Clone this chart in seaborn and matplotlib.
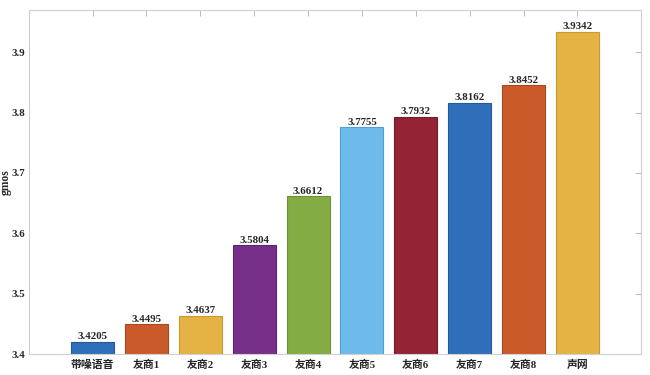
import pandas as pd
from matplotlib import pyplot as plt
import seaborn as sns

systems = ["带噪语音", "友商1", "友商2", "友商3", "友商4", "友商5", "友商6", "友商7", "友商8", "声网"]
gmos = [3.4205, 3.4495, 3.4637, 3.5804, 3.6612, 3.7755, 3.7932, 3.8162, 3.8452, 3.9342]
bar_colors = ["#2F6FBA", "#CB5A2B", "#E5B343", "#76308A", "#84AC44",
              "#6EBBEB", "#932335", "#2F6FBA", "#CB5A2B", "#E5B343"]
edge_colors = ["#24589A", "#A8461F", "#C99A30", "#5E2470", "#6C9035",
               "#4FA2D6", "#781B2A", "#24589A", "#A8461F", "#C99A30"]

sns.set_style("white")
plt.rcParams["font.family"] = ["Liberation Serif", "Noto Sans CJK SC", "DejaVu Sans"]
plt.rcParams["font.weight"] = "bold"

df = pd.DataFrame({"system": systems, "gmos": gmos})

fig = plt.figure(figsize=(6.5, 3.75), dpi=100)
ax = fig.add_axes([29 / 650, 1 - 354 / 375, 612 / 650, 344 / 375])

sns.barplot(data=df, x="system", y="gmos", hue="system", palette=bar_colors,
            legend=False, width=0.8, ax=ax, saturation=1)
for patch, ec in zip(ax.patches, edge_colors):
    patch.set_edgecolor(ec)
    patch.set_linewidth(0.8)

for container in ax.containers:
    ax.bar_label(container, fmt="%.4f", padding=0.3, fontsize=7.8, fontweight="bold")

ax.set_ylim(3.4, 3.97)
ax.set_xlim(-1.18, 10.18)
ax.set_yticks([3.4, 3.5, 3.6, 3.7, 3.8, 3.9])
ax.set_xlabel("")
ax.set_ylabel("gmos", fontsize=8.3, fontweight="bold")
ax.yaxis.set_label_coords(-17 / 612, 0.5)

for s in ax.spines.values():
    s.set_visible(True)
    s.set_color("#D0D0D0")
    s.set_linewidth(0.8)
ax.tick_params(direction="in", length=4, width=0.6, color="#B0B0B0",
               top=True, right=True, labelsize=7.8)
ax.tick_params(axis="y", pad=2.5)
ax.tick_params(axis="x", pad=4)
for lbl in ax.get_xticklabels() + ax.get_yticklabels():
    lbl.set_fontweight("bold")

fig.savefig("out.png", dpi=100)
